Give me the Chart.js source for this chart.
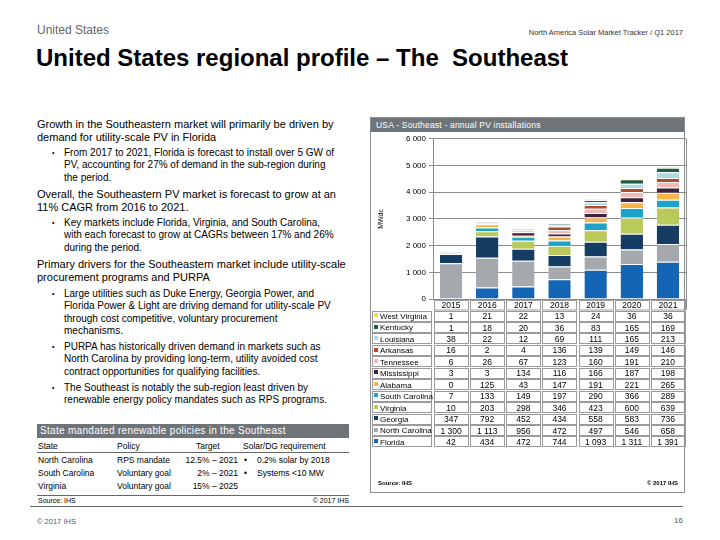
<!DOCTYPE html>
<html>
<head>
<meta charset="utf-8">
<script src="https://cdn.jsdelivr.net/npm/chart.js@4.4.1/dist/chart.umd.min.js"></script>
<style>
  body { margin: 0; background: #fff; font-family: "Liberation Sans", Arial, sans-serif; }
  #page { position: relative; width: 720px; height: 540px; overflow: hidden; }
  .abs { position: absolute; white-space: nowrap; }
  .para { font-size: 11px; line-height: 13px; color: #000; left: 37px; }
  .bul { font-size: 10px; line-height: 12.4px; letter-spacing: 0; color: #000; left: 64px; }
  .bul::before { content: "\2022"; position: absolute; left: -12px; font-size: 7px; }
  .ptab { font-size: 8.5px; color: #000; }
  #panel { position: absolute; left: 370px; top: 117px; width: 313px; height: 374px; border: 1px solid #8a8f94; }
  #panelHead { position: absolute; left: 0; top: 0; right: 0; height: 14px; background: #6f7479; color: #fff; font-size: 8.5px; line-height: 14px; padding-left: 5px; letter-spacing: 0.2px; }
  #chartBox { position: absolute; left: 371px; top: 131px; width: 316px; height: 360px; }
</style>
</head>
<body>
<div id="page">
  <div class="abs" style="left:37px; top:23px; font-size:12px; color:#666;">United States</div>
  <div class="abs" style="right:37px; top:28px; font-size:7.5px; color:#333;">North America Solar Market Tracker / Q1 2017</div>
  <div class="abs" style="left:36px; top:44px; font-size:24px; font-weight:bold; color:#000;">United States regional profile – The &nbsp;Southeast</div>

  <div class="abs para" style="top:118px;">Growth in the Southeastern market will primarily be driven by<br>demand for utility-scale PV in Florida</div>
  <div class="abs bul" style="top:147px;">From 2017 to 2021, Florida is forecast to install over 5 GW of<br>PV, accounting for 27% of demand in the sub-region during<br>the period.</div>
  <div class="abs para" style="top:188px;">Overall, the Southeastern PV market is forecast to grow at an<br>11% CAGR from 2016 to 2021.</div>
  <div class="abs bul" style="top:217px;">Key markets include Florida, Virginia, and South Carolina,<br>with each forecast to grow at CAGRs between 17% and 26%<br>during the period.</div>
  <div class="abs para" style="top:258px;">Primary drivers for the Southeastern market include utility-scale<br>procurement programs and PURPA</div>
  <div class="abs bul" style="top:288px;">Large utilities such as Duke Energy, Georgia Power, and<br>Florida Power &amp; Light are driving demand for utility-scale PV<br>through cost competitive, voluntary procurement<br>mechanisms.</div>
  <div class="abs bul" style="top:341px;">PURPA has historically driven demand in markets such as<br>North Carolina by providing long-term, utility avoided cost<br>contract opportunities for qualifying facilities.</div>
  <div class="abs bul" style="top:382px;">The Southeast is notably the sub-region least driven by<br>renewable energy policy mandates such as RPS programs.</div>

  <div class="abs" style="left:37px; top:424px; width:312px; height:14px; background:#6f7479;"></div>
  <div class="abs" style="left:40px; top:424px; font-size:10px; line-height:14px; color:#fff; letter-spacing:0.3px;">State mandated renewable policies in the Southeast</div>
  <div class="abs ptab" style="left:38px; top:441px;">State</div>
  <div class="abs ptab" style="left:117px; top:441px;">Policy</div>
  <div class="abs ptab" style="left:196px; top:441px;">Target</div>
  <div class="abs ptab" style="left:243px; top:441px;">Solar/DG requirement</div>
  <div class="abs" style="left:37px; top:452px; width:312px; height:1px; background:#666;"></div>
  <div class="abs ptab" style="left:38px; top:455px;">North Carolina</div>
  <div class="abs ptab" style="left:117px; top:455px;">RPS mandate</div>
  <div class="abs ptab" style="right:482px; top:455px;">12.5% – 2021</div>
  <div class="abs ptab" style="left:244px; top:455px;">•</div>
  <div class="abs ptab" style="left:257px; top:455px;">0.2% solar by 2018</div>
  <div class="abs ptab" style="left:38px; top:468px;">South Carolina</div>
  <div class="abs ptab" style="left:117px; top:468px;">Voluntary goal</div>
  <div class="abs ptab" style="right:482px; top:468px;">2% – 2021</div>
  <div class="abs ptab" style="left:244px; top:468px;">•</div>
  <div class="abs ptab" style="left:257px; top:468px;">Systems &lt;10 MW</div>
  <div class="abs ptab" style="left:38px; top:481px;">Virginia</div>
  <div class="abs ptab" style="left:117px; top:481px;">Voluntary goal</div>
  <div class="abs ptab" style="right:482px; top:481px;">15% – 2025</div>
  <div class="abs" style="left:37px; top:495px; width:312px; height:1px; background:#666;"></div>
  <div class="abs" style="left:38px; top:497px; font-size:7px; color:#000;">Source: IHS</div>
  <div class="abs" style="right:371px; top:497px; font-size:7px; color:#000;">© 2017 IHS</div>

  <div id="panel"><div id="panelHead">USA - Southeast - annual PV installations</div></div>
  <div id="chartBox"><canvas id="chart" width="316" height="360"></canvas></div>

  <div class="abs" style="left:30px; top:506px; width:653px; height:1px; background:#666;"></div>
  <div class="abs" style="left:37px; top:517px; font-size:7.5px; color:#555;">© 2017 IHS</div>
  <div class="abs" style="right:37px; top:516px; font-size:8px; color:#555;">16</div>
</div>

<script>
const years = ['2015', '2016', '2017', '2018', '2019', '2020', '2021'];

// MWdc by state, stacked bottom to top
const florida       = [42, 434, 472, 744, 1093, 1311, 1391];
const northCarolina = [1300, 1113, 956, 472, 497, 546, 658];
const georgia       = [347, 792, 452, 434, 558, 583, 736];
const virginia      = [10, 203, 298, 346, 423, 600, 639];
const southCarolina = [7, 133, 149, 197, 290, 366, 289];
const alabama       = [0, 125, 43, 147, 191, 221, 265];
const mississippi   = [3, 3, 134, 116, 166, 187, 198];
const tennessee     = [6, 26, 67, 123, 160, 191, 210];
const arkansas      = [16, 2, 4, 136, 139, 149, 146];
const louisiana     = [38, 22, 12, 69, 111, 165, 213];
const kentucky      = [1, 18, 20, 36, 83, 165, 169];
const westVirginia  = [1, 21, 22, 13, 24, 36, 36];

const stateNames = ['Florida', 'North Carolina', 'Georgia', 'Virginia', 'South Carolina', 'Alabama',
  'Mississippi', 'Tennessee', 'Arkansas', 'Louisiana', 'Kentucky', 'West Virginia'];
const stateValues = [florida, northCarolina, georgia, virginia, southCarolina, alabama,
  mississippi, tennessee, arkansas, louisiana, kentucky, westVirginia];
const stateColors = ['#1565b5', '#a5a9ad', '#153c63', '#b9c95a', '#1ba3c8', '#f6b44a',
  '#3e2140', '#f2b7ae', '#b34a30', '#a9dbe3', '#1f5a45', '#efdf52'];

const yTicks = [0, 1000, 2000, 3000, 4000, 5000, 6000];

function fmt(v) {
  return String(v).replace(/\B(?=(\d{3})+(?!\d))/g, ' ');
}

const datasets = stateNames.map((name, i) => ({
  label: name,
  data: stateValues[i],
  backgroundColor: stateColors[i],
  borderColor: '#ffffff',
  borderWidth: { top: 1, left: 0, right: 0, bottom: 0 },
  borderSkipped: false,
  barPercentage: 0.62,
  categoryPercentage: 1
}));

// data table under the plot, columns follow the x scale
const tablePlugin = {
  id: 'dataTable',
  afterDraw(chart) {
    const ctx = chart.ctx;
    const xs = chart.scales.x;
    const area = chart.chartArea;
    const step = xs.getPixelForValue(1) - xs.getPixelForValue(0);
    const headTop = area.bottom + 1;
    const headH = 9.5;
    const rowH = 11.45;
    const labelLeft = 1;

    ctx.save();
    // right border of the plot
    ctx.strokeStyle = '#8c8c8c';
    ctx.lineWidth = 1;
    ctx.beginPath();
    ctx.moveTo(Math.round(area.right) + 0.5, area.top);
    ctx.lineTo(Math.round(area.right) + 0.5, headTop + headH);
    ctx.stroke();

    ctx.font = '8.5px "Liberation Sans", Arial, sans-serif';
    ctx.textBaseline = 'middle';
    ctx.strokeStyle = '#9a9a9a';

    // year row
    years.forEach((yr, j) => {
      const cx = xs.getPixelForValue(j);
      const x0 = cx - step / 2;
      ctx.strokeRect(Math.round(x0) + 1.5, Math.round(headTop) + 0.5, Math.round(step) - 2, headH);
      ctx.fillStyle = '#000';
      ctx.textAlign = 'center';
      ctx.fillText(yr, cx, headTop + headH / 2 + 1);
    });

    // state rows, top to bottom reversed from stacking
    const order = stateNames.map((_, i) => i).reverse();
    order.forEach((si, r) => {
      const y0 = headTop + headH + 1 + r * rowH;
      const cy = y0 + rowH / 2;
      ctx.strokeRect(labelLeft + 0.5, Math.round(y0) + 0.5, Math.round(area.left - labelLeft) - 2, Math.round(rowH) - 1);
      ctx.fillStyle = stateColors[si];
      ctx.fillRect(labelLeft + 2, Math.round(cy) - 3, 4, 4);
      ctx.fillStyle = '#000';
      ctx.textAlign = 'left';
      ctx.font = '8px "Liberation Sans", Arial, sans-serif';
      ctx.fillText(stateNames[si], labelLeft + 8, cy + 0.5);
      ctx.font = '8.5px "Liberation Sans", Arial, sans-serif';
      stateValues[si].forEach((v, j) => {
        const cx = xs.getPixelForValue(j);
        const x0 = cx - step / 2;
        ctx.strokeRect(Math.round(x0) + 1.5, Math.round(y0) + 0.5, Math.round(step) - 2, Math.round(rowH) - 1);
        ctx.textAlign = 'center';
        ctx.fillText(fmt(v), cx, cy + 0.5);
      });
    });

    // source line
    const sy = headTop + headH + 1 + 12 * rowH + 35;
    ctx.font = 'bold 6px "Liberation Sans", Arial, sans-serif';
    ctx.textAlign = 'left';
    ctx.fillText('Source: IHS', 7, sy);
    ctx.textAlign = 'right';
    ctx.fillText('© 2017 IHS', area.right - 8, sy);
    ctx.restore();
  }
};

new Chart(document.getElementById('chart'), {
  type: 'bar',
  data: { labels: years, datasets: datasets },
  options: {
    responsive: false,
    maintainAspectRatio: false,
    animation: false,
    devicePixelRatio: 1,
    layout: { padding: { top: 6, right: 1, left: 0, bottom: 0 } },
    plugins: {
      legend: { display: false },
      tooltip: { enabled: false }
    },
    scales: {
      x: {
        stacked: true,
        offset: true,
        ticks: { display: false },
        grid: { display: false },
        border: { display: false },
        afterFit: scale => { scale.height = 192; }
      },
      y: {
        stacked: true,
        min: 0,
        max: 6000,
        afterBuildTicks: scale => { scale.ticks = yTicks.map(v => ({ value: v })); },
        afterFit: scale => { scale.width = 62; },
        ticks: {
          color: '#000',
          font: { size: 8, family: '"Liberation Sans", Arial, sans-serif' },
          padding: 3,
          callback: v => fmt(v)
        },
        grid: { color: '#8c8c8c', lineWidth: 1, tickLength: 4 },
        border: { display: true, color: '#8c8c8c' },
        title: {
          display: true,
          text: 'MWdc',
          color: '#000',
          font: { size: 7, family: '"Liberation Sans", Arial, sans-serif' },
          padding: { top: 6, bottom: 0 }
        }
      }
    }
  },
  plugins: [tablePlugin]
});
</script>
</body>
</html>
